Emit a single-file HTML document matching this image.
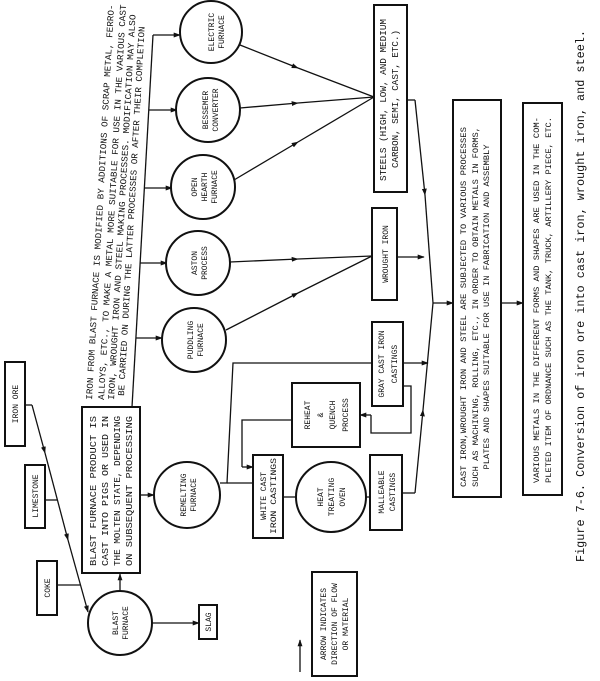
<!DOCTYPE html>
<html><head><meta charset="utf-8"><style>
html,body{margin:0;padding:0;background:#fff;}
svg{display:block;}
text{font-family:"Liberation Mono","DejaVu Sans Mono",monospace;fill:#111;}
.b{fill:#fff;stroke:#111;stroke-width:2;}
.l{fill:none;stroke:#111;stroke-width:1.3;}
</style></head><body>
<svg width="600" height="681" viewBox="0 0 600 681" xmlns="http://www.w3.org/2000/svg">
<defs>
<marker id="a" viewBox="0 0 10 10" refX="9" refY="5" markerWidth="7" markerHeight="7" orient="auto" markerUnits="userSpaceOnUse"><path d="M0,1.5 L10,5 L0,8.5 z" fill="#111"/></marker>
</defs>

<!-- connectors -->
<polyline class="l" points="25,405 32,405"/>
<line class="l" x1="32" y1="405" x2="45" y2="453" marker-end="url(#a)"/>
<line class="l" x1="45" y1="453" x2="68" y2="540" marker-end="url(#a)"/>
<line class="l" x1="68" y1="540" x2="88" y2="612" marker-end="url(#a)"/>
<line class="l" x1="45" y1="500" x2="57" y2="500"/>
<line class="l" x1="57" y1="585" x2="80" y2="585"/>
<line class="l" x1="120" y1="591" x2="120" y2="574" marker-end="url(#a)"/>
<line class="l" x1="152" y1="623" x2="199" y2="623" marker-end="url(#a)"/>
<line class="l" x1="140" y1="495" x2="154" y2="495" marker-end="url(#a)"/>

<line class="l" x1="132" y1="407" x2="153" y2="35"/>
<line class="l" x1="153" y1="35" x2="180" y2="35" marker-end="url(#a)"/>
<line class="l" x1="149" y1="110" x2="177" y2="110" marker-end="url(#a)"/>
<line class="l" x1="144" y1="188" x2="172" y2="188" marker-end="url(#a)"/>
<line class="l" x1="140" y1="263" x2="167" y2="263" marker-end="url(#a)"/>
<line class="l" x1="136" y1="338" x2="162" y2="338" marker-end="url(#a)"/>

<line class="l" x1="240" y1="45" x2="298" y2="68" marker-end="url(#a)"/>
<line class="l" x1="298" y1="68" x2="374" y2="97"/>
<line class="l" x1="240" y1="108" x2="298" y2="103" marker-end="url(#a)"/>
<line class="l" x1="298" y1="103" x2="374" y2="97"/>
<line class="l" x1="234" y1="180" x2="298" y2="142" marker-end="url(#a)"/>
<line class="l" x1="298" y1="142" x2="374" y2="97"/>
<line class="l" x1="230" y1="262" x2="298" y2="259" marker-end="url(#a)"/>
<line class="l" x1="298" y1="259" x2="372" y2="256"/>
<line class="l" x1="226" y1="330" x2="298" y2="293" marker-end="url(#a)"/>
<line class="l" x1="298" y1="293" x2="372" y2="256"/>

<polyline class="l" points="407,100 415,100"/>
<line class="l" x1="415" y1="100" x2="425" y2="195" marker-end="url(#a)"/>
<line class="l" x1="425" y1="195" x2="433" y2="303"/>
<line class="l" x1="397" y1="257" x2="424" y2="257" marker-end="url(#a)"/>
<line class="l" x1="433" y1="303" x2="453" y2="303" marker-end="url(#a)"/>
<line class="l" x1="501" y1="303" x2="523" y2="303" marker-end="url(#a)"/>
<polyline class="l" points="402,493 415,493"/>
<line class="l" x1="415" y1="493" x2="423" y2="410" marker-end="url(#a)"/>
<line class="l" x1="423" y1="410" x2="433" y2="303"/>
<line class="l" x1="403" y1="363" x2="428" y2="363" marker-end="url(#a)"/>

<polyline class="l" points="220,483 227,483 233,363 372,363"/>
<polyline class="l" points="227,483 253,483"/>
<polyline class="l" points="292,420 242,420 242,467"/>
<line class="l" x1="242" y1="467" x2="253" y2="467" marker-end="url(#a)"/>
<polyline class="l" points="403,386 411,386 411,433 371,433 371,415"/>
<line class="l" x1="371" y1="415" x2="360" y2="415" marker-end="url(#a)"/>
<line class="l" x1="283" y1="497" x2="296" y2="497"/>
<line class="l" x1="366" y1="497" x2="370" y2="497"/>
<line class="l" x1="300" y1="672" x2="300" y2="640" marker-end="url(#a)"/>

<!-- boxes -->
<rect class="b" x="5" y="362" width="20" height="84"/>
<rect class="b" x="25" y="465" width="20" height="63"/>
<rect class="b" x="37" y="561" width="20" height="54"/>
<rect class="b" x="199" y="605" width="18" height="34"/>
<rect class="b" x="82" y="407" width="58" height="166"/>
<rect class="b" x="253" y="455" width="30" height="83"/>
<rect class="b" x="370" y="455" width="32" height="75"/>
<rect class="b" x="292" y="383" width="68" height="64"/>
<rect class="b" x="372" y="322" width="31" height="84"/>
<rect class="b" x="372" y="208" width="25" height="92"/>
<rect class="b" x="374" y="5" width="33" height="187"/>
<rect class="b" x="453" y="100" width="48" height="397"/>
<rect class="b" x="523" y="103" width="39" height="392"/>
<rect class="b" x="312" y="572" width="45" height="104"/>

<circle class="b" cx="120" cy="623" r="32"/>
<circle class="b" cx="187" cy="495" r="33"/>
<circle class="b" cx="331" cy="497" r="35"/>
<circle class="b" cx="211" cy="32" r="31"/>
<circle class="b" cx="208" cy="110" r="32"/>
<circle class="b" cx="203" cy="187" r="32"/>
<circle class="b" cx="198" cy="263" r="32"/>
<circle class="b" cx="194" cy="340" r="32"/>

<!-- labels -->
<g font-size="8" text-anchor="middle">
<text transform="translate(18,404) rotate(-90)">IRON ORE</text>
<text transform="translate(38,496) rotate(-90)">LIMESTONE</text>
<text transform="translate(50,588) rotate(-90)">COKE</text>
<text transform="translate(211,622) rotate(-90)">SLAG</text>
<text transform="translate(118,623) rotate(-90)">BLAST</text>
<text transform="translate(128,623) rotate(-90)">FURNACE</text>
<text transform="translate(186,495) rotate(-90)">REMELTING</text>
<text transform="translate(196,495) rotate(-90)">FURNACE</text>
<text transform="translate(266,496) rotate(-90)">WHITE CAST</text>
<text transform="translate(276,496) rotate(-90)" textLength="76" lengthAdjust="spacingAndGlyphs">IRON CASTINGS</text>
<text transform="translate(323,497) rotate(-90)">HEAT</text>
<text transform="translate(334,497) rotate(-90)">TREATING</text>
<text transform="translate(345,497) rotate(-90)">OVEN</text>
<text transform="translate(384,492) rotate(-90)">MALLEABLE</text>
<text transform="translate(395,492) rotate(-90)">CASTINGS</text>
<text transform="translate(310,415) rotate(-90)">REHEAT</text>
<text transform="translate(323,415) rotate(-90)">&amp;</text>
<text transform="translate(335,415) rotate(-90)">QUENCH</text>
<text transform="translate(348,415) rotate(-90)">PROCESS</text>
<text transform="translate(384,364) rotate(-90)">GRAY CAST IRON</text>
<text transform="translate(397,364) rotate(-90)">CASTINGS</text>
<text transform="translate(388,254) rotate(-90)">WROUGHT IRON</text>
<text transform="translate(386,100) rotate(-90)" textLength="162" lengthAdjust="spacingAndGlyphs" font-size="9">STEELS (HIGH, LOW, AND MEDIUM</text>
<text transform="translate(398,99) rotate(-90)" textLength="138" lengthAdjust="spacingAndGlyphs" font-size="9">CARBON, SEMI, CAST, ETC.)</text>
<text transform="translate(214,32) rotate(-90)">ELECTRIC</text>
<text transform="translate(224,32) rotate(-90)">FURNACE</text>
<text transform="translate(208,110) rotate(-90)">BESSEMER</text>
<text transform="translate(218,110) rotate(-90)">CONVERTER</text>
<text transform="translate(197,187) rotate(-90)">OPEN</text>
<text transform="translate(207,187) rotate(-90)">HEARTH</text>
<text transform="translate(217,187) rotate(-90)">FURNACE</text>
<text transform="translate(197,263) rotate(-90)">ASTON</text>
<text transform="translate(207,263) rotate(-90)">PROCESS</text>
<text transform="translate(193,340) rotate(-90)">PUDDLING</text>
<text transform="translate(203,340) rotate(-90)">FURNACE</text>
<text transform="translate(326,624) rotate(-90)">ARROW INDICATES</text>
<text transform="translate(337,624) rotate(-90)">DIRECTION OF FLOW</text>
<text transform="translate(348,624) rotate(-90)">OR MATERIAL</text>
<text transform="translate(466,307) rotate(-90)" textLength="360" lengthAdjust="spacingAndGlyphs">CAST IRON,WROUGHT IRON AND STEEL ARE SUBJECTED TO VARIOUS PROCESSES</text>
<text transform="translate(478,307) rotate(-90)" textLength="360" lengthAdjust="spacingAndGlyphs">SUCH AS MACHINING, ROLLING, ETC., IN ORDER TO OBTAIN METALS IN FORMS,</text>
<text transform="translate(489,307) rotate(-90)" textLength="325" lengthAdjust="spacingAndGlyphs">PLATES AND SHAPES SUITABLE FOR USE IN FABRICATION AND ASSEMBLY</text>
<text transform="translate(539,300) rotate(-90)" textLength="366" lengthAdjust="spacingAndGlyphs">VARIOUS METALS IN THE DIFFERENT FORMS AND SHAPES ARE USED IN THE COM-</text>
<text transform="translate(551,300) rotate(-90)" textLength="366" lengthAdjust="spacingAndGlyphs">PLETED ITEM OF ORDNANCE SUCH AS THE TANK, TRUCK, ARTILLERY PIECE, ETC.</text>
</g>

<g font-size="9">
<text transform="translate(96,566) rotate(-90)" textLength="150" lengthAdjust="spacingAndGlyphs">BLAST FURNACE PRODUCT IS</text>
<text transform="translate(108,566) rotate(-90)" textLength="150" lengthAdjust="spacingAndGlyphs">CAST INTO PIGS OR USED IN</text>
<text transform="translate(120,566) rotate(-90)" textLength="150" lengthAdjust="spacingAndGlyphs">THE MOLTEN STATE, DEPENDING</text>
<text transform="translate(132,566) rotate(-90)" textLength="150" lengthAdjust="spacingAndGlyphs">ON SUBSEQUENT PROCESSING</text>
</g>

<g font-size="9">
<text transform="translate(92,400) rotate(-86.8)" textLength="396" lengthAdjust="spacingAndGlyphs">IRON FROM BLAST FURNACE IS MODIFIED BY ADDITIONS OF SCRAP METAL, FERRO-</text>
<text transform="translate(104,400) rotate(-86.8)" textLength="396" lengthAdjust="spacingAndGlyphs">ALLOYS, ETC., TO MAKE A METAL MORE SUITABLE FOR USE IN THE VARIOUS CAST</text>
<text transform="translate(114,400) rotate(-86.8)" textLength="386" lengthAdjust="spacingAndGlyphs">IRON, WROUGHT IRON AND STEEL MAKING PROCESSES.  MODIFICATION MAY ALSO</text>
<text transform="translate(124,396) rotate(-86.8)" textLength="370" lengthAdjust="spacingAndGlyphs">BE CARRIED ON DURING THE LATTER PROCESSES OR AFTER THEIR COMPLETION</text>
</g>

<text transform="translate(584,562) rotate(-90)" font-size="12" textLength="532" lengthAdjust="spacingAndGlyphs">Figure 7-6.  Conversion of iron ore into cast iron, wrought iron, and steel.</text>
</svg>
</body></html>
